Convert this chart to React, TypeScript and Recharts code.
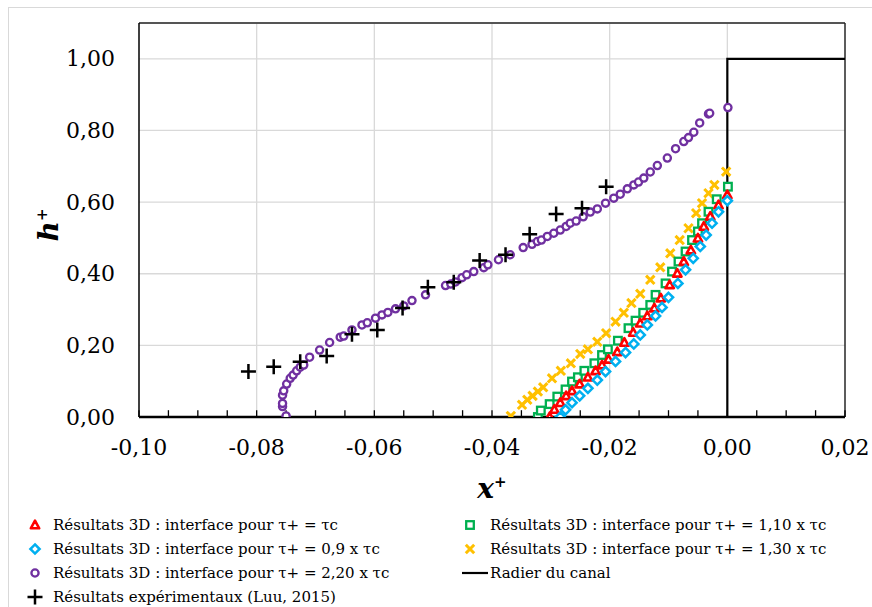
import React from 'react';
import { ScatterChart, Scatter, XAxis, YAxis, CartesianGrid, ReferenceLine } from 'recharts';

// τ+ = τc (red triangles)
const tauC: [number, number][] = [
  [-0.0302, 0.0], [-0.0294, 0.021], [-0.0284, 0.040], [-0.0274, 0.059], [-0.0264, 0.073],
  [-0.0251, 0.092], [-0.0237, 0.111], [-0.0224, 0.129], [-0.0213, 0.145], [-0.0202, 0.161],
  [-0.0187, 0.182], [-0.0175, 0.208], [-0.0160, 0.236], [-0.0148, 0.262], [-0.0136, 0.282],
  [-0.0124, 0.304], [-0.0113, 0.332], [-0.0098, 0.369], [-0.0085, 0.401], [-0.0074, 0.434],
  [-0.0062, 0.466], [-0.0050, 0.499], [-0.0040, 0.532], [-0.0029, 0.560], [-0.0015, 0.592],
  [0.0, 0.620],
];

// τ+ = 0,9 x τc (blue diamonds)
const tau09: [number, number][] = [
  [-0.0284, 0.0], [-0.0275, 0.020], [-0.0264, 0.040], [-0.0251, 0.059], [-0.0237, 0.080],
  [-0.0221, 0.103], [-0.0207, 0.127], [-0.0190, 0.155], [-0.0173, 0.180], [-0.0159, 0.204],
  [-0.0148, 0.229], [-0.0136, 0.257], [-0.0122, 0.282], [-0.0111, 0.306], [-0.0100, 0.334],
  [-0.0084, 0.373], [-0.0071, 0.411], [-0.0058, 0.443], [-0.0046, 0.476], [-0.0036, 0.508],
  [-0.0026, 0.541], [-0.0015, 0.573], [0.0, 0.604],
];

// τ+ = 1,10 x τc (green squares)
const tau110: [number, number][] = [
  [-0.0322, 0.0], [-0.0317, 0.018], [-0.0302, 0.036], [-0.0289, 0.057], [-0.0275, 0.077],
  [-0.0264, 0.099], [-0.0254, 0.111], [-0.0243, 0.129], [-0.0226, 0.150], [-0.0213, 0.173],
  [-0.0203, 0.189], [-0.0186, 0.213], [-0.0168, 0.248], [-0.0156, 0.269], [-0.0143, 0.291],
  [-0.0131, 0.313], [-0.0122, 0.341], [-0.0105, 0.373], [-0.0094, 0.406], [-0.0083, 0.434],
  [-0.0071, 0.462], [-0.0060, 0.494], [-0.0050, 0.518], [-0.0043, 0.541], [-0.0032, 0.573],
  [-0.0018, 0.608], [0.0001, 0.643],
];

// τ+ = 1,30 x τc (yellow crosses)
const tau130: [number, number][] = [
  [-0.0368, 0.003], [-0.0349, 0.034], [-0.0340, 0.048], [-0.0331, 0.059], [-0.0322, 0.071],
  [-0.0313, 0.083], [-0.0298, 0.108], [-0.0283, 0.129], [-0.0266, 0.150], [-0.0250, 0.176],
  [-0.0237, 0.189], [-0.0221, 0.210], [-0.0206, 0.234], [-0.0190, 0.266], [-0.0176, 0.291],
  [-0.0163, 0.318], [-0.0148, 0.344], [-0.0131, 0.383], [-0.0114, 0.418], [-0.0097, 0.457],
  [-0.0081, 0.494], [-0.0066, 0.527], [-0.0053, 0.569], [-0.0043, 0.597], [-0.0032, 0.625],
  [-0.0022, 0.648], [-0.0002, 0.685],
];

// τ+ = 2,20 x τc (purple circles)
const tau220: [number, number][] = [
  [-0.0750, 0.003], [-0.0756, 0.029], [-0.0756, 0.038], [-0.0756, 0.061], [-0.0754, 0.073],
  [-0.0749, 0.092], [-0.0743, 0.108], [-0.0738, 0.117], [-0.0732, 0.129], [-0.0726, 0.139],
  [-0.0720, 0.145], [-0.0710, 0.167], [-0.0693, 0.187], [-0.0676, 0.208], [-0.0658, 0.223],
  [-0.0652, 0.226], [-0.0638, 0.243], [-0.0621, 0.257], [-0.0612, 0.263], [-0.0598, 0.276],
  [-0.0587, 0.285], [-0.0577, 0.292], [-0.0564, 0.302], [-0.0550, 0.310], [-0.0536, 0.325],
  [-0.0513, 0.341], [-0.0479, 0.367], [-0.0470, 0.371], [-0.0462, 0.377], [-0.0451, 0.389],
  [-0.0443, 0.397], [-0.0431, 0.406], [-0.0414, 0.417], [-0.0407, 0.425], [-0.0389, 0.439],
  [-0.0369, 0.453], [-0.0347, 0.473], [-0.0332, 0.482], [-0.0323, 0.490], [-0.0316, 0.494],
  [-0.0306, 0.504], [-0.0295, 0.513], [-0.0284, 0.522], [-0.0274, 0.532], [-0.0267, 0.541],
  [-0.0257, 0.547], [-0.0245, 0.559], [-0.0233, 0.572], [-0.0221, 0.581], [-0.0207, 0.597],
  [-0.0193, 0.611], [-0.0182, 0.622], [-0.0170, 0.637], [-0.0159, 0.648], [-0.0151, 0.656],
  [-0.0142, 0.667], [-0.0131, 0.684], [-0.0119, 0.702], [-0.0102, 0.723], [-0.0088, 0.749],
  [-0.0074, 0.769], [-0.0066, 0.780], [-0.0057, 0.795], [-0.0047, 0.821], [-0.0032, 0.846],
  [-0.0030, 0.848], [0.0001, 0.864],
];

// Luu (2015) experimental points
const experimental: [number, number][] = [
  [-0.0814, 0.127], [-0.0771, 0.140], [-0.0726, 0.154], [-0.0681, 0.170], [-0.0638, 0.231],
  [-0.0595, 0.243], [-0.0552, 0.304], [-0.0509, 0.362], [-0.0465, 0.376], [-0.0421, 0.437],
  [-0.0377, 0.453], [-0.0336, 0.510], [-0.0291, 0.567], [-0.0247, 0.583], [-0.0206, 0.643],
];

// channel bed outline
const radier: [number, number][] = [[0, 0], [0, 1.0], [0.02, 1.0]];

const xMajorTicks = [-0.1, -0.08, -0.06, -0.04, -0.02, 0, 0.02];
const yTicks = [0, 0.2, 0.4, 0.6, 0.8, 1.0];

const FONT = '"DejaVu Serif", serif';
const toPts = (arr: [number, number][]) => arr.map(([x, y]) => ({ x, y }));
const fmt = (v: number) => (Math.abs(v) < 1e-9 ? 0 : v).toFixed(2).replace('.', ',');

// inside minor tick marks every 0,005
const xMinorTicks: number[] = [];
for (let i = -20; i <= 4; i++) xMinorTicks.push(i * 0.005);

const Triangle = ({ cx, cy }: any) => (
  <path d={`M${cx},${cy - 4.3} L${cx + 4.2},${cy + 3.3} L${cx - 4.2},${cy + 3.3} Z`} fill="#fff" stroke="#FF0000" strokeWidth={2.6} strokeLinejoin="round" />
);
const Diamond = ({ cx, cy }: any) => (
  <path d={`M${cx},${cy - 4.6} L${cx + 4.6},${cy} L${cx},${cy + 4.6} L${cx - 4.6},${cy} Z`} fill="#fff" stroke="#00B0F0" strokeWidth={2.5} />
);
const Square = ({ cx, cy }: any) => (
  <rect x={cx - 3.8} y={cy - 3.8} width={7.6} height={7.6} fill="#fff" stroke="#00B050" strokeWidth={2.3} />
);
const Cross = ({ cx, cy }: any) => (
  <path d={`M${cx - 4.2},${cy - 4.2} L${cx + 4.2},${cy + 4.2} M${cx + 4.2},${cy - 4.2} L${cx - 4.2},${cy + 4.2}`} stroke="#FFC000" strokeWidth={3} />
);
const Circle = ({ cx, cy }: any) => (
  <circle cx={cx} cy={cy} r={3.6} fill="#fff" stroke="#7030A0" strokeWidth={2.3} />
);
const Plus = ({ cx, cy }: any) => (
  <path d={`M${cx - 7.5},${cy} L${cx + 7.5},${cy} M${cx},${cy - 7.5} L${cx},${cy + 7.5}`} stroke="#000" strokeWidth={2.5} />
);
const NoShape = () => <g />;

const XTick = (props: any) => {
  const { x, y, payload } = props;
  return (
    <text x={x} y={y + 30} textAnchor="middle" dominantBaseline="central" fontSize={22} fontFamily={FONT} fill="#000">
      {fmt(payload.value)}
    </text>
  );
};

const YTick = (props: any) => {
  const { y, payload } = props;
  return (
    <text x={115} y={y} textAnchor="end" dominantBaseline="central" fontSize={22} fontFamily={FONT} fill="#000">
      {fmt(payload.value)}
    </text>
  );
};

const legendRow = (top: number) => ({ position: 'absolute' as const, top: top - 10, height: 20, display: 'flex', alignItems: 'center' });
const legendText: React.CSSProperties = { fontFamily: FONT, fontSize: 15, color: '#000', whiteSpace: 'nowrap' };

const Marker = ({ children }: { children: React.ReactNode }) => (
  <svg width={20} height={20} viewBox="-10 -10 20 20" style={{ display: 'block' }}>{children}</svg>
);

const App: React.FC = () => {
  return (
    <div style={{ position: 'absolute', left: 0, top: 0, width: 872, height: 607, overflow: 'hidden', background: '#fff' }}>
      <div style={{ position: 'absolute', left: 8, top: 7, width: 900, height: 700, border: '1px solid #d9d9d9' }} />
      <div style={{ position: 'absolute', left: 0, top: 0 }}>
        <ScatterChart width={872} height={607} margin={{ top: 23, right: 27, left: 59, bottom: 150 }}>
          <CartesianGrid vertical={false} stroke="#d9d9d9" strokeWidth={1.3} />
          {xMajorTicks.slice(1, -1).map((v) => (
            <ReferenceLine key={v} x={v} stroke="#d9d9d9" strokeWidth={1.3} />
          ))}
          <ReferenceLine y={1.1} stroke="#262626" strokeWidth={1.5} />
          <ReferenceLine x={0.02} stroke="#262626" strokeWidth={1.5} />
          {xMinorTicks.map((v) => (
            <ReferenceLine key={`t${v}`} segment={[{ x: v, y: 0 }, { x: v, y: 0.019 }]} stroke="#000" strokeWidth={1.3} />
          ))}
          <XAxis
            dataKey="x"
            type="number"
            domain={[-0.1, 0.02]}
            ticks={xMajorTicks}
            interval={0}
            tick={<XTick />}
            tickSize={0}
            tickMargin={0}
            tickLine={false}
            height={40}
            axisLine={{ stroke: '#000', strokeWidth: 2.5 }}
            allowDataOverflow
          />
          <YAxis
            dataKey="y"
            type="number"
            domain={[0, 1.1]}
            ticks={yTicks}
            interval={0}
            tick={<YTick />}
            tickLine={false}
            width={80}
            axisLine={{ stroke: '#000', strokeWidth: 1.5 }}
            allowDataOverflow
          />
          <Scatter data={toPts(radier)} line={{ stroke: '#000', strokeWidth: 2.2 }} lineType="joint" shape={<NoShape />} isAnimationActive={false} />
          <Scatter data={toPts(tau130)} shape={<Cross />} isAnimationActive={false} />
          <Scatter data={toPts(tau110)} shape={<Square />} isAnimationActive={false} />
          <Scatter data={toPts(tauC)} shape={<Triangle />} isAnimationActive={false} />
          <Scatter data={toPts(tau09)} shape={<Diamond />} isAnimationActive={false} />
          <Scatter data={toPts(tau220)} shape={<Circle />} isAnimationActive={false} />
          <Scatter data={toPts(experimental)} shape={<Plus />} isAnimationActive={false} />
        </ScatterChart>
      </div>

      {/* axis titles */}
      <div style={{ position: 'absolute', left: 48, top: 225, transform: 'translate(-50%, -50%) rotate(-90deg)', fontFamily: FONT, fontSize: 28, fontWeight: 'bold', fontStyle: 'italic', whiteSpace: 'nowrap' }}>
        h<span style={{ fontSize: 15, verticalAlign: 'super' }}>+</span>
      </div>
      <div style={{ position: 'absolute', left: 492, top: 488, transform: 'translate(-50%, -50%)', fontFamily: FONT, fontSize: 28, fontWeight: 'bold', fontStyle: 'italic', whiteSpace: 'nowrap' }}>
        x<span style={{ fontSize: 15, verticalAlign: 'super' }}>+</span>
      </div>

      {/* legend */}
      <div style={{ ...legendRow(525), left: 25 }}>
        <Marker><Triangle cx={0} cy={0} /></Marker>
        <span style={{ ...legendText, marginLeft: 8 }}>Résultats 3D : interface pour τ+ = τc</span>
      </div>
      <div style={{ ...legendRow(549), left: 25 }}>
        <Marker><Diamond cx={0} cy={0} /></Marker>
        <span style={{ ...legendText, marginLeft: 8 }}>Résultats 3D : interface pour τ+ = 0,9 x τc</span>
      </div>
      <div style={{ ...legendRow(573), left: 25 }}>
        <Marker><Circle cx={0} cy={0} /></Marker>
        <span style={{ ...legendText, marginLeft: 8 }}>Résultats 3D : interface pour τ+ = 2,20 x τc</span>
      </div>
      <div style={{ ...legendRow(597), left: 25 }}>
        <Marker><Plus cx={0} cy={0} /></Marker>
        <span style={{ ...legendText, marginLeft: 8 }}>Résultats expérimentaux (Luu, 2015)</span>
      </div>
      <div style={{ ...legendRow(525), left: 460 }}>
        <Marker><Square cx={0} cy={0} /></Marker>
        <span style={{ ...legendText, marginLeft: 10 }}>Résultats 3D : interface pour τ+ = 1,10 x τc</span>
      </div>
      <div style={{ ...legendRow(549), left: 460 }}>
        <Marker><Cross cx={0} cy={0} /></Marker>
        <span style={{ ...legendText, marginLeft: 10 }}>Résultats 3D : interface pour τ+ = 1,30 x τc</span>
      </div>
      <div style={{ ...legendRow(573), left: 462 }}>
        <svg width={26} height={20} style={{ display: 'block' }}>
          <line x1={0} x2={26} y1={10} y2={10} stroke="#000" strokeWidth={2.2} />
        </svg>
        <span style={{ ...legendText, marginLeft: 2 }}>Radier du canal</span>
      </div>
    </div>
  );
};

export default App;
